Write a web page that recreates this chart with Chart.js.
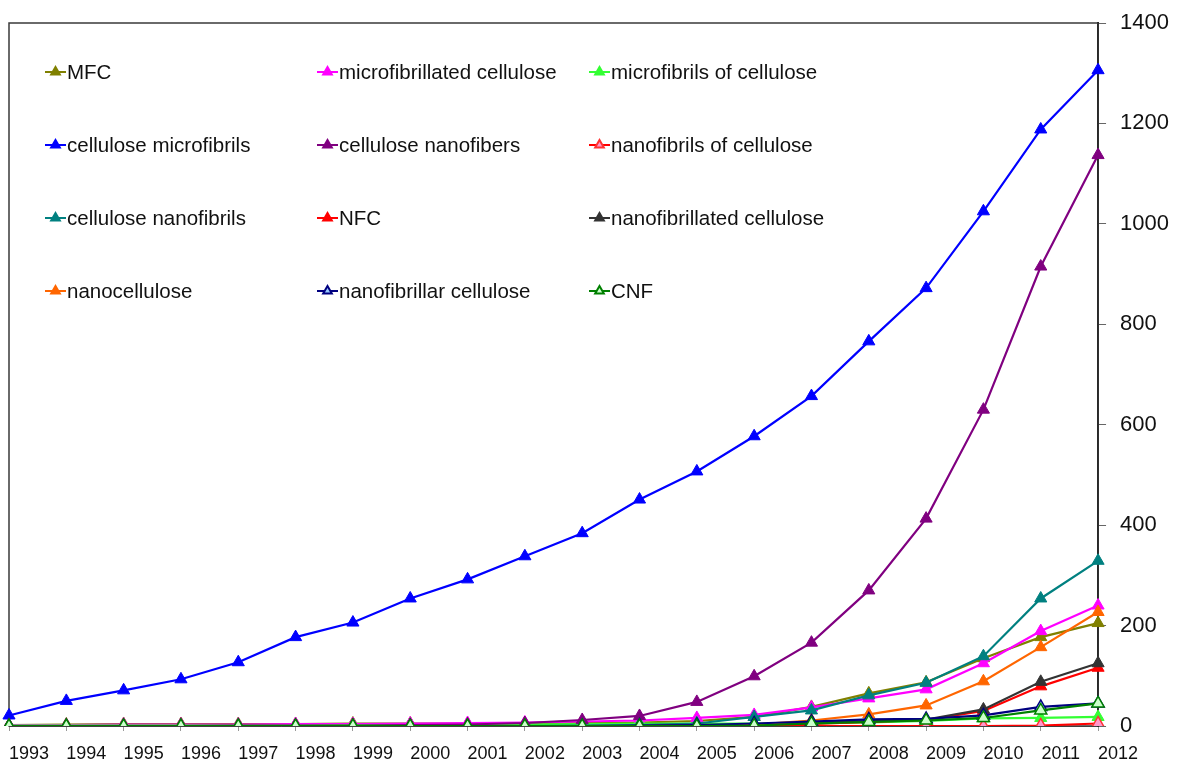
<!DOCTYPE html>
<html>
<head>
<meta charset="utf-8">
<script src="https://cdn.jsdelivr.net/npm/chart.js@4"></script>
<style>
  body { margin: 0; background: #fff; }
  #wrap { width: 1184px; height: 765px; }
</style>
</head>
<body>
<div id="wrap"><canvas id="termChart" width="1184" height="765"></canvas></div>
<script>
// publication counts per search term, 1993-2012
const years = ['1993', '1994', '1995', '1996', '1997', '1998', '1999', '2000', '2001', '2002',
               '2003', '2004', '2005', '2006', '2007', '2008', '2009', '2010', '2011', '2012'];

const mfc = [2, 3, 4, 4, 4, 4, 5, 5, 5, 5, 6, 7, 10, 18, 38, 65, 87, 135, 177, 205];
const microfibrillatedCellulose = [2, 2, 3, 3, 3, 4, 4, 5, 6, 7, 9, 11, 16, 22, 37, 55, 73, 125, 189, 240];
const microfibrilsOfCellulose = [1, 1, 1, 1, 1, 1, 2, 2, 2, 3, 4, 5, 5, 5, 5, 7, 10, 15, 16, 18];
const celluloseMicrofibrils = [21, 50, 71, 93, 127, 177, 206, 254, 292, 338, 384, 451, 507, 577, 657, 766, 872, 1025, 1188, 1306];
const celluloseNanofibers = [0, 0, 0, 0, 1, 1, 1, 2, 3, 6, 12, 20, 48, 99, 166, 270, 413, 630, 915, 1137];
const nanofibrilsOfCellulose = [0, 0, 0, 0, 0, 0, 0, 0, 0, 0, 0, 0, 0, 0, 0, 0, 0, 0, 1, 5];
const celluloseNanofibrils = [0, 0, 0, 0, 0, 0, 0, 0, 0, 0, 1, 2, 5, 18, 31, 61, 86, 139, 254, 329];
const nfc = [0, 0, 0, 0, 0, 0, 0, 0, 0, 0, 0, 0, 0, 1, 4, 8, 12, 30, 79, 116];
const nanofibrillatedCellulose = [0, 0, 0, 0, 0, 0, 0, 0, 0, 0, 0, 0, 1, 2, 7, 10, 13, 33, 88, 125];
const nanocellulose = [0, 0, 0, 0, 0, 0, 0, 0, 0, 0, 0, 0, 1, 3, 11, 23, 41, 89, 157, 227];
const nanofibrillarCellulose = [0, 0, 0, 0, 0, 0, 0, 0, 0, 0, 0, 1, 2, 5, 9, 13, 14, 21, 38, 45];
const cnf = [0, 0, 0, 0, 0, 0, 0, 0, 0, 0, 0, 0, 0, 1, 5, 8, 11, 16, 31, 45];

// label, values, line colour, marker fill, marker border
const series = [
    ['MFC', mfc, '#808000', '#808000', '#808000'],
    ['microfibrillated cellulose', microfibrillatedCellulose, '#ff00ff', '#ff00ff', '#ff00ff'],
    ['microfibrils of cellulose', microfibrilsOfCellulose, '#33ff33', '#33ff33', '#33ff33'],
    ['cellulose microfibrils', celluloseMicrofibrils, '#0000ff', '#0000ff', '#0000ff'],
    ['cellulose nanofibers', celluloseNanofibers, '#800080', '#800080', '#800080'],
    ['nanofibrils of cellulose', nanofibrilsOfCellulose, '#ff0000', '#ff99cc', '#ff3333'],
    ['cellulose nanofibrils', celluloseNanofibrils, '#008080', '#008080', '#008080'],
    ['NFC', nfc, '#ff0000', '#ff0000', '#ff0000'],
    ['nanofibrillated cellulose', nanofibrillatedCellulose, '#333333', '#333333', '#333333'],
    ['nanocellulose', nanocellulose, '#ff6600', '#ff6600', '#ff6600'],
    ['nanofibrillar cellulose', nanofibrillarCellulose, '#000080', '#99ccff', '#000080'],
    ['CNF', cnf, '#008000', '#ccffcc', '#008000']
];

const FONT = "'Liberation Sans', Arial, sans-serif";

// box round the plot area (top and left edges show)
const frame = {
    id: 'frame',
    beforeDatasetsDraw(chart) {
        const a = chart.chartArea;
        const ctx = chart.ctx;
        ctx.save();
        ctx.strokeStyle = '#3a3a3a';
        ctx.lineWidth = 1.5;
        ctx.strokeRect(a.left, a.top, a.right - a.left, a.bottom - a.top);
        ctx.restore();
    }
};

// 3-column legend inside the plot area
const gridLegend = {
    id: 'gridLegend',
    afterDraw(chart) {
        const a = chart.chartArea;
        const ctx = chart.ctx;
        ctx.save();
        ctx.font = '20.5px ' + FONT;
        ctx.textBaseline = 'middle';
        ctx.textAlign = 'left';
        chart.data.datasets.forEach((ds, i) => {
            const col = i % 3, row = Math.floor(i / 3);
            const x = a.left + 36 + col * 272;
            const y = a.top + 49 + row * 73;
            ctx.strokeStyle = ds.borderColor;
            ctx.lineWidth = 2;
            ctx.beginPath();
            ctx.moveTo(x, y);
            ctx.lineTo(x + 21, y);
            ctx.stroke();
            ctx.fillStyle = ds.pointBackgroundColor;
            ctx.strokeStyle = ds.pointBorderColor;
            Chart.helpers.drawPoint(ctx, {pointStyle: 'triangle', radius: 5, rotation: 0, borderWidth: 1}, x + 10.5, y);
            ctx.fillStyle = '#111';
            ctx.fillText(ds.label, x + 22, y + 1);
        });
        ctx.restore();
    }
};

const datasets = series.map((s, i) => ({
    label: s[0],
    data: s[1],
    borderColor: s[2],
    backgroundColor: s[2],
    pointBackgroundColor: s[3],
    pointBorderColor: s[4],
    borderWidth: 2.2,
    pointStyle: 'triangle',
    pointRadius: 7,
    pointBorderWidth: s[3] === s[4] ? 1 : 1.5,
    tension: 0,
    order: series.length - i
}));

const ctx = document.getElementById('termChart').getContext('2d');
new Chart(ctx, {
    type: 'line',
    data: { labels: years, datasets: datasets },
    options: {
        responsive: false,
        animation: false,
        layout: { padding: { left: 9, top: 23, right: 1, bottom: 0 } },
        plugins: { legend: { display: false }, tooltip: { enabled: false } },
        scales: {
            x: {
                offset: false,
                grid: { drawOnChartArea: false, tickLength: 5, color: '#999' },
                border: { display: true, color: '#555', width: 1 },
                ticks: {
                    font: { family: FONT, size: 18 },
                    color: '#111',
                    padding: 12,
                    labelOffset: 20,
                    maxRotation: 0,
                    autoSkip: false
                },
                afterFit(scale) { scale.paddingLeft = 0; scale.paddingRight = 0; scale.height = 39; }
            },
            y: {
                position: 'right',
                min: 0,
                max: 1400,
                grid: { drawOnChartArea: false, tickLength: 8, color: '#666' },
                border: { display: true, color: '#000', width: 2 },
                ticks: {
                    stepSize: 200,
                    font: { family: FONT, size: 22 },
                    color: '#111',
                    padding: 14,
                    callback: v => String(v)
                },
                afterFit(scale) { scale.paddingTop = 0; scale.paddingBottom = 0; }
            }
        }
    },
    plugins: [frame, gridLegend]
});
</script>
</body>
</html>
